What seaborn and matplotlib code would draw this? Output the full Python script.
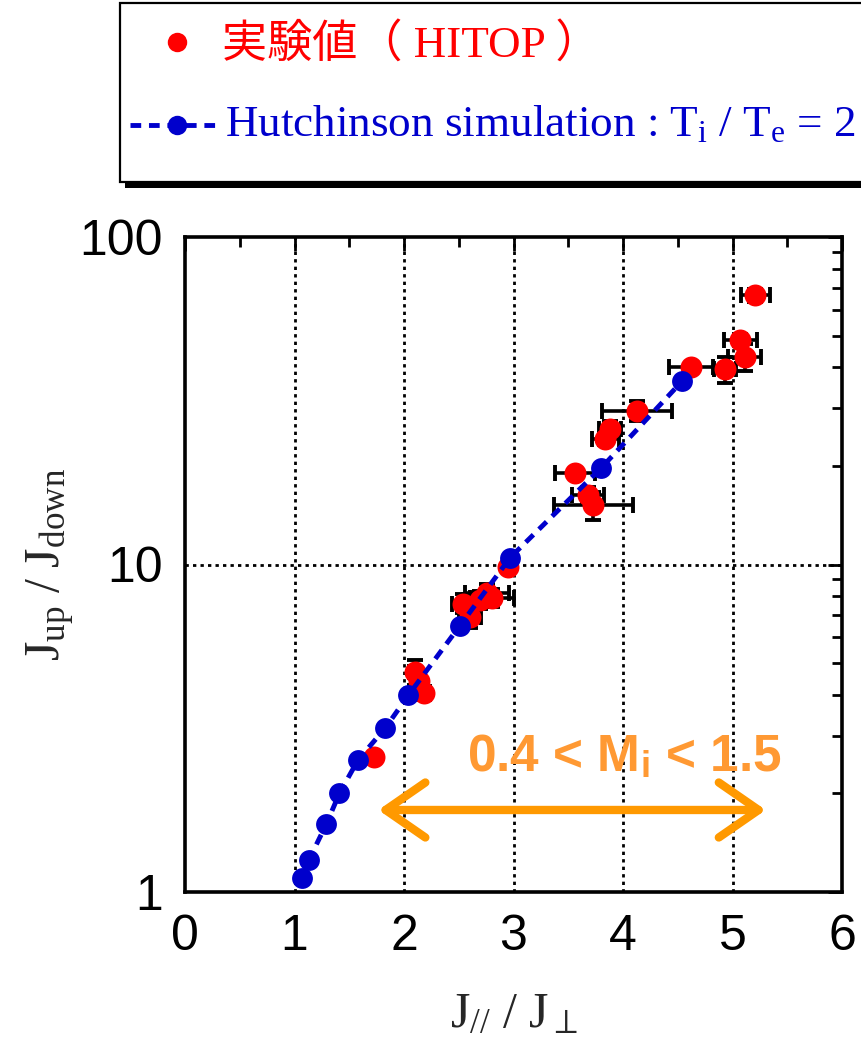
import matplotlib
matplotlib.use("Agg")
import matplotlib.pyplot as plt
import seaborn as sns
import numpy as np
from matplotlib.patches import Rectangle, FancyArrowPatch
from matplotlib.lines import Line2D
from matplotlib.ticker import MultipleLocator, LogLocator, NullFormatter, FixedLocator

# ---------------- data ----------------
exp_x = [1.73, 2.10, 2.14, 2.18, 2.54, 2.60, 2.69, 2.76, 2.80, 2.95,
         3.56, 3.68, 3.73, 3.84, 3.88, 4.13, 4.62, 4.93, 5.07, 5.11, 5.21]
exp_y = [2.59, 4.70, 4.40, 4.05, 7.6, 6.9, 7.8, 8.2, 7.9, 9.8,
         19.0, 16.3, 15.2, 24.2, 25.9, 29.5, 40.1, 39.4, 48.5, 43.1, 66.5]
exp_xerr = [0.0, 0.05, 0.05, 0.05, 0.10, 0.10, 0.15, 0.20, 0.20, 0.0,
            0.18, 0.15, 0.36, 0.12, 0.10, 0.32, 0.20, 0.10, 0.15, 0.15, 0.13]
exp_yerr = [0.0, 0.40, 0.30, 0.20, 0.50, 0.50, 0.50, 0.50, 0.50, 0.0,
            0.0, 1.0, 1.5, 1.0, 1.5, 2.0, 0.0, 3.5, 2.0, 4.0, 3.0]

sim_x = [1.07, 1.13, 1.29, 1.41, 1.58, 1.83, 2.04, 2.51, 2.97, 3.80, 4.54]
sim_y = [1.10, 1.25, 1.61, 2.00, 2.53, 3.17, 3.99, 6.50, 10.5, 19.7, 36.3]

x_ticks = [0, 1, 2, 3, 4, 5, 6]
y_ticks = [1, 10, 100]
y_ticklabels = ["1", "10", "100"]

legend_exp = "実験値（ HITOP ）"
legend_sim = r"Hutchinson simulation : T$_{\mathrm{i}}$ / T$_{\mathrm{e}}$ = 2"
range_text = r"0.4 < M$_{\mathsf{i}}$ < 1.5"
range_x = [1.74, 5.33]
range_y = 1.78

# ---------------- style ----------------
sns.set_style("white")
plt.rcParams["font.family"] = ["Liberation Sans", "DejaVu Sans"]
plt.rcParams["mathtext.fontset"] = "custom"
plt.rcParams["mathtext.rm"] = "Liberation Serif"
plt.rcParams["mathtext.it"] = "Liberation Serif:italic"
plt.rcParams["mathtext.sf"] = "Liberation Sans:bold"
plt.rcParams["mathtext.fallback"] = "stix"

RED = "#FF0000"
BLUE = "#0000CC"
ORANGE = "#FF9900"

W, H = 861, 1058
fig = plt.figure(figsize=(W / 100, H / 100), dpi=100)
ax = fig.add_axes([185 / W, 1 - 892 / H, (842 - 185) / W, (892 - 237) / H])

# error bars (behind markers)
ax.errorbar(exp_x, exp_y, xerr=exp_xerr, yerr=exp_yerr, fmt="none",
            ecolor="black", elinewidth=2.6, capsize=5.5, capthick=2.8, zorder=2)
# experimental points
sns.scatterplot(x=exp_x, y=exp_y, ax=ax, color=RED, s=250, linewidth=0,
                zorder=3, legend=False)
# simulation
sns.lineplot(x=sim_x, y=sim_y, ax=ax, color=BLUE, sort=False,
             linestyle=(0, (2.2, 1.6)), linewidth=3.5, marker="o",
             markersize=15, markeredgewidth=0, zorder=4, legend=False)

ax.set_yscale("log")
ax.set_xlim(0, 6)
ax.set_ylim(1, 100)

ax.xaxis.set_major_locator(FixedLocator(x_ticks))
ax.xaxis.set_minor_locator(MultipleLocator(0.5))
ax.yaxis.set_major_locator(FixedLocator(y_ticks))
ax.set_yticklabels(y_ticklabels)
ax.yaxis.set_minor_locator(LogLocator(base=10, subs=np.arange(2, 10)))
ax.yaxis.set_minor_formatter(NullFormatter())

ax.tick_params(which="both", direction="in", top=True, right=True,
               colors="black", width=2)
ax.tick_params(which="major", length=10, labelsize=36, pad=16)
ax.tick_params(which="minor", length=7)
for lab in ax.get_xticklabels() + ax.get_yticklabels():
    lab.set_fontfamily("Liberation Sans")

for s in ax.spines.values():
    s.set_color("black")
    s.set_linewidth(2.6)

# dotted grid
ax.grid(False)
for gx in x_ticks[1:-1]:
    ax.axvline(gx, color="black", linestyle=(0, (1.2, 1.5)), linewidth=2.0, zorder=1)
ax.axhline(10, color="black", linestyle=(0, (1.2, 1.5)), linewidth=2.0, zorder=1)

ax.set_xlabel(r"$\mathrm{J}_{//}\ /\ \mathrm{J}_{\perp}$", fontsize=36, labelpad=22)
ax.set_ylabel(r"$\mathrm{J}_{\mathrm{up}}\ /\ \mathrm{J}_{\mathrm{down}}$", fontsize=36)
ax.yaxis.set_label_coords(-0.165, 0.5)

# orange range annotation
arr = FancyArrowPatch((range_x[0], range_y), (range_x[1], range_y),
                      arrowstyle="<->,head_length=13,head_width=9",
                      color=ORANGE, linewidth=6, mutation_scale=2.2,
                      capstyle="round", joinstyle="round", zorder=6)
ax.add_patch(arr)
ax.text(4.01, 2.57, range_text, color="#FF9933", fontsize=37,
        fontweight="bold", fontfamily="Liberation Sans",
        ha="center", va="center", zorder=6)

# ---------------- legend box (figure coords, pixel based) ----------------
def fx(px):
    return px / W

def fy(py):
    return 1 - py / H

shadow = Rectangle((fx(125), fy(188)), fx(900) - fx(125), fy(8) - fy(188),
                   transform=fig.transFigure, facecolor="black",
                   edgecolor="none", zorder=0)
box = Rectangle((fx(120), fy(182)), fx(900) - fx(120), fy(3) - fy(182),
                transform=fig.transFigure, facecolor="white",
                edgecolor="black", linewidth=1.6, zorder=1)
fig.patches.extend([shadow, box])

fig.lines.append(Line2D([fx(177)], [fy(42)], transform=fig.transFigure,
                        marker="o", markersize=14, color=RED,
                        markeredgewidth=0, linestyle="none"))
fig.lines.append(Line2D([fx(130), fx(222)], [fy(125), fy(125)],
                        transform=fig.transFigure, color=BLUE,
                        linestyle=(0, (2.2, 1.6)), linewidth=3.5))
fig.lines.append(Line2D([fx(177)], [fy(125)], transform=fig.transFigure,
                        marker="o", markersize=14, color=BLUE,
                        markeredgewidth=0, linestyle="none"))

fig.text(fx(222), fy(44), legend_exp, color=RED, fontsize=32.5,
         family=["Liberation Serif", "Noto Sans CJK JP"], ha="left", va="center")
fig.text(fx(225), fy(125), legend_sim, color=BLUE, fontsize=32.5,
         family=["Liberation Serif"], ha="left", va="center")

fig.savefig("out.png", dpi=100)
